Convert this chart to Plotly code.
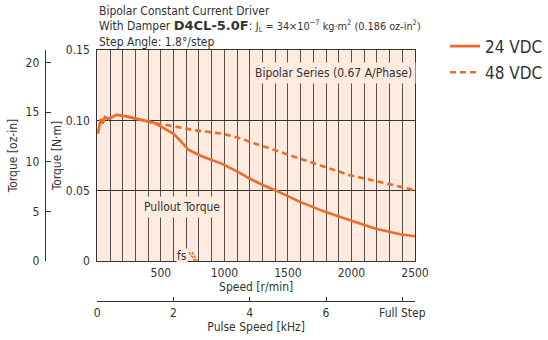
import plotly.graph_objects as go

# ---- data ----
speed_24 = [3, 13, 29, 39, 61, 87, 113, 152, 218, 297, 362, 441, 507, 598, 651, 716, 821, 979, 1110, 1202, 1306, 1398, 1595, 1792, 1989, 2185, 2382, 2500]
torque_24 = [0.0906, 0.0953, 0.1010, 0.0977, 0.1023, 0.1010, 0.1023, 0.1040, 0.1030, 0.1016, 0.1000, 0.0985, 0.0953, 0.0906, 0.0858, 0.0792, 0.0745, 0.0693, 0.0633, 0.0585, 0.0539, 0.0504, 0.0421, 0.0350, 0.0291, 0.0232, 0.0191, 0.0177]
speed_48 = [3, 13, 29, 39, 61, 87, 113, 152, 218, 297, 362, 441, 559, 769, 979, 1136, 1202, 1306, 1398, 1595, 1792, 1989, 2185, 2382, 2500]
torque_48 = [0.0906, 0.0953, 0.1010, 0.0977, 0.1023, 0.1010, 0.1023, 0.1040, 0.1030, 0.1016, 0.1000, 0.0981, 0.0965, 0.0929, 0.0906, 0.0870, 0.0846, 0.0816, 0.0787, 0.0728, 0.0669, 0.0610, 0.0570, 0.0527, 0.0504]
fs_speed_24 = [721, 769]
fs_speed_48 = [745, 784]
fs_torque = [0.0064, 0.0]

speed_ticks = [500, 1000, 1500, 2000, 2500]
speed_minor_step = 100
nm_ticks = [0, 0.05, 0.10, 0.15]
nm_labels = ["0", "0.05", "0.10", "0.15"]
oz_ticks = [0, 5, 10, 15, 20]
khz_ticks = [0, 2, 4, 6, 8]
khz_labels = ["0", "2", "4", "6", "Full Step"]

NM_TO_OZIN = 141.612
STEPS_PER_REV = 200
SPEED_MAX = 2500
T_MAX = 0.15

ORANGE = "#f26a2b"
BG = "#fdebdf"
GRID = "#57514d"
TXT = "#333333"
FONT = "DejaVu Sans Condensed, Liberation Sans Narrow, sans-serif"

fig = go.Figure()
fig.add_trace(go.Scatter(x=speed_24, y=torque_24, mode="lines", name="24 VDC",
                         line=dict(color=ORANGE, width=2.6), legendgroup="a"))
fig.add_trace(go.Scatter(x=speed_48, y=torque_48, mode="lines", name="48 VDC",
                         line=dict(color=ORANGE, width=2.6, dash="6px,4px"), legendgroup="b"))
fig.add_trace(go.Scatter(x=fs_speed_24, y=fs_torque, mode="lines", showlegend=False,
                         line=dict(color=ORANGE, width=1.5, dash="3px,1px")))
fig.add_trace(go.Scatter(x=fs_speed_48, y=fs_torque, mode="lines", showlegend=False,
                         line=dict(color=ORANGE, width=1.5, dash="3px,1px")))
# helper traces to activate the secondary axes
fig.add_trace(go.Scatter(x=[0], y=[0], yaxis="y2", mode="markers", marker=dict(opacity=0),
                         showlegend=False, hoverinfo="skip"))
fig.add_trace(go.Scatter(x=[0], y=[0], xaxis="x2", mode="markers", marker=dict(opacity=0),
                         showlegend=False, hoverinfo="skip"))

ML, MR, MT, MB = 20, 133, 49.5, 20
W, H = 548, 340
pw = W - ML - MR
ph = H - MT - MB
x0 = (97.3 - ML) / pw
y0 = (H - MB - 261) / ph
y_pulse = (H - MB - 301) / ph

fig.update_layout(
    width=W, height=H,
    margin=dict(l=ML, r=MR, t=MT, b=MB, pad=0, autoexpand=False),
    paper_bgcolor="white", plot_bgcolor=BG,
    font=dict(family=FONT, size=12, color=TXT),
    showlegend=True,
    legend=dict(x=(445 - ML) / pw, y=(H - MB - 28) / ph, xanchor="left", yanchor="top",
                font=dict(size=17, color=TXT), bgcolor="rgba(0,0,0,0)",
                tracegroupgap=1),
    xaxis=dict(domain=[x0, 1], range=[0, SPEED_MAX], tickvals=speed_ticks,
               showgrid=True, gridcolor=GRID, gridwidth=1, ticks="", zeroline=False,
               minor=dict(dtick=speed_minor_step, tick0=0, showgrid=True, gridcolor=GRID, gridwidth=1, ticks=""),
               showline=True, linecolor="#333", linewidth=1.2, mirror=True, automargin=False,
               tickfont=dict(size=12), ticklabelstandoff=0,
               title=dict(text="Speed [r/min]", font=dict(size=12), standoff=0)),
    yaxis=dict(domain=[y0, 1], range=[0, T_MAX], tickvals=nm_ticks, ticktext=nm_labels,
               showgrid=True, gridcolor="#333", gridwidth=1, ticks="", zeroline=False,
               showline=True, linecolor="#333", linewidth=1.2, mirror=True, automargin=False,
               tickfont=dict(size=12), ticklabelstandoff=4,
               title=dict(text="Torque [N·m]", font=dict(size=12), standoff=1)),
    yaxis2=dict(domain=[y0, 1], range=[0, T_MAX * NM_TO_OZIN], tickvals=oz_ticks,
                anchor="free", position=(44.7 - ML) / pw, overlaying="y", side="left",
                showgrid=False, zeroline=False, showline=True, linecolor="#333", linewidth=1,
                ticks="inside", ticklen=5, tickcolor="#333", automargin=False,
                tickfont=dict(size=12), ticklabelstandoff=3,
                title=dict(text="Torque [oz-in]", font=dict(size=12), standoff=4)),
    xaxis2=dict(domain=[x0, 1], range=[0, SPEED_MAX * STEPS_PER_REV / 60 / 1000],
                tickvals=khz_ticks, ticktext=khz_labels,
                anchor="free", position=y_pulse, overlaying="x", side="bottom",
                showgrid=False, zeroline=False, showline=True, linecolor="#333", linewidth=1.2,
                ticks="inside", ticklen=4, tickcolor="#333", automargin=False,
                tickfont=dict(size=12), ticklabelstandoff=0,
                title=dict(text="Pulse Speed [kHz]", font=dict(size=12), standoff=2)),
)

def pyp(py):
    return (H - MB - py) / ph

title_lines = [
    (10, "Bipolar Constant Current Driver"),
    (25.5, "With Damper <b><span style='font-family:DejaVu Sans, sans-serif;font-size:13px'>D4CL-5.0F</span></b>: "
           "<span style='font-size:10.8px'>J<sub>L</sub> = 34×10<sup>−7</sup> kg·m<sup>2</sup> (0.186 oz-in<sup>2</sup>)</span>"),
    (41, "Step Angle: 1.8°/step"),
]
for py, txt in title_lines:
    fig.add_annotation(xref="paper", yref="paper", x=x0, y=pyp(py), text=txt,
                       showarrow=False, xanchor="left", yanchor="middle",
                       xshift=0, font=dict(size=12, color=TXT))

fig.add_annotation(x=1855, y=0.134, text="Bipolar Series (0.67 A/Phase)", showarrow=False,
                   bgcolor=BG, borderpad=3, font=dict(size=12, color=TXT))
fig.add_annotation(x=667, y=0.0383, text="Pullout Torque", showarrow=False,
                   bgcolor=BG, borderpad=3, font=dict(size=12, color=TXT))
fig.add_annotation(x=715, y=0.0035, text="fs", showarrow=False, xanchor="right",
                   bgcolor=BG, borderpad=0, font=dict(size=12, color=TXT))

fig.write_html("out.html", config={"displayModeBar": False},
               post_script="document.body.style.margin='0';")
